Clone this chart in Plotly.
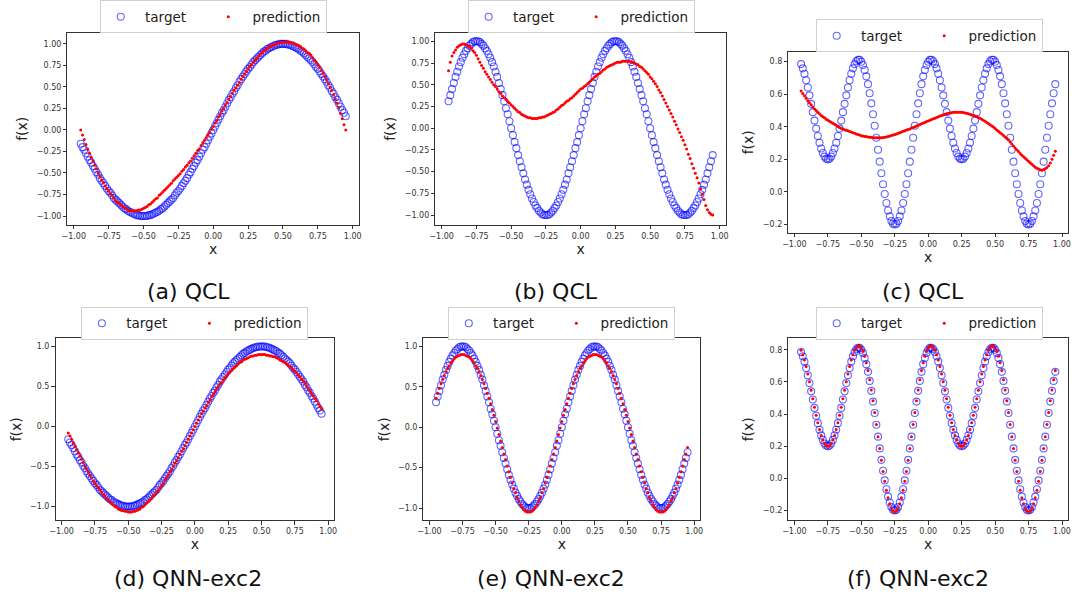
import plotly.graph_objects as go

# ---------------- data ----------------
x = [-0.95,-0.9375,-0.925,-0.9125,-0.9,-0.8875,-0.875,-0.8625,
     -0.85,-0.8375,-0.825,-0.8125,-0.8,-0.7875,-0.775,-0.7625,
     -0.75,-0.7375,-0.725,-0.7125,-0.7,-0.6875,-0.675,-0.6625,
     -0.65,-0.6375,-0.625,-0.6125,-0.6,-0.5875,-0.575,-0.5625,
     -0.55,-0.5375,-0.525,-0.5125,-0.5,-0.4875,-0.475,-0.4625,
     -0.45,-0.4375,-0.425,-0.4125,-0.4,-0.3875,-0.375,-0.3625,
     -0.35,-0.3375,-0.325,-0.3125,-0.3,-0.2875,-0.275,-0.2625,
     -0.25,-0.2375,-0.225,-0.2125,-0.2,-0.1875,-0.175,-0.1625,
     -0.15,-0.1375,-0.125,-0.1125,-0.1,-0.0875,-0.075,-0.0625,
     -0.05,-0.0375,-0.025,-0.0125,0.0,0.0125,0.025,0.0375,
     0.05,0.0625,0.075,0.0875,0.1,0.1125,0.125,0.1375,
     0.15,0.1625,0.175,0.1875,0.2,0.2125,0.225,0.2375,
     0.25,0.2625,0.275,0.2875,0.3,0.3125,0.325,0.3375,
     0.35,0.3625,0.375,0.3875,0.4,0.4125,0.425,0.4375,
     0.45,0.4625,0.475,0.4875,0.5,0.5125,0.525,0.5375,
     0.55,0.5625,0.575,0.5875,0.6,0.6125,0.625,0.6375,
     0.65,0.6625,0.675,0.6875,0.7,0.7125,0.725,0.7375,
     0.75,0.7625,0.775,0.7875,0.8,0.8125,0.825,0.8375,
     0.85,0.8625,0.875,0.8875,0.9,0.9125,0.925,0.9375,
     0.95]

target_a = [-0.16,-0.20,-0.23,-0.27,-0.31,-0.35,-0.38,-0.42,
            -0.45,-0.49,-0.52,-0.56,-0.59,-0.62,-0.65,-0.68,
            -0.71,-0.73,-0.76,-0.79,-0.81,-0.83,-0.85,-0.87,
            -0.89,-0.91,-0.92,-0.94,-0.95,-0.96,-0.97,-0.98,
            -0.99,-0.99,-1.00,-1.00,-1.00,-1.00,-1.00,-0.99,
            -0.99,-0.98,-0.97,-0.96,-0.95,-0.94,-0.92,-0.91,
            -0.89,-0.87,-0.85,-0.83,-0.81,-0.79,-0.76,-0.73,
            -0.71,-0.68,-0.65,-0.62,-0.59,-0.56,-0.52,-0.49,
            -0.45,-0.42,-0.38,-0.35,-0.31,-0.27,-0.23,-0.20,
            -0.16,-0.12,-0.08,-0.04,0.00,0.04,0.08,0.12,
            0.16,0.20,0.23,0.27,0.31,0.35,0.38,0.42,
            0.45,0.49,0.52,0.56,0.59,0.62,0.65,0.68,
            0.71,0.73,0.76,0.79,0.81,0.83,0.85,0.87,
            0.89,0.91,0.92,0.94,0.95,0.96,0.97,0.98,
            0.99,0.99,1.00,1.00,1.00,1.00,1.00,0.99,
            0.99,0.98,0.97,0.96,0.95,0.94,0.92,0.91,
            0.89,0.87,0.85,0.83,0.81,0.79,0.76,0.73,
            0.71,0.68,0.65,0.62,0.59,0.56,0.52,0.49,
            0.45,0.42,0.38,0.35,0.31,0.27,0.23,0.20,
            0.16]

target_b = [0.31,0.38,0.45,0.52,0.59,0.65,0.71,0.76,
            0.81,0.85,0.89,0.92,0.95,0.97,0.99,1.00,
            1.00,1.00,0.99,0.97,0.95,0.92,0.89,0.85,
            0.81,0.76,0.71,0.65,0.59,0.52,0.45,0.38,
            0.31,0.23,0.16,0.08,0.00,-0.08,-0.16,-0.23,
            -0.31,-0.38,-0.45,-0.52,-0.59,-0.65,-0.71,-0.76,
            -0.81,-0.85,-0.89,-0.92,-0.95,-0.97,-0.99,-1.00,
            -1.00,-1.00,-0.99,-0.97,-0.95,-0.92,-0.89,-0.85,
            -0.81,-0.76,-0.71,-0.65,-0.59,-0.52,-0.45,-0.38,
            -0.31,-0.23,-0.16,-0.08,0.00,0.08,0.16,0.23,
            0.31,0.38,0.45,0.52,0.59,0.65,0.71,0.76,
            0.81,0.85,0.89,0.92,0.95,0.97,0.99,1.00,
            1.00,1.00,0.99,0.97,0.95,0.92,0.89,0.85,
            0.81,0.76,0.71,0.65,0.59,0.52,0.45,0.38,
            0.31,0.23,0.16,0.08,0.00,-0.08,-0.16,-0.23,
            -0.31,-0.38,-0.45,-0.52,-0.59,-0.65,-0.71,-0.76,
            -0.81,-0.85,-0.89,-0.92,-0.95,-0.97,-0.99,-1.00,
            -1.00,-1.00,-0.99,-0.97,-0.95,-0.92,-0.89,-0.85,
            -0.81,-0.76,-0.71,-0.65,-0.59,-0.52,-0.45,-0.38,
            -0.31]

target_c = [0.785,0.759,0.726,0.686,0.641,0.593,0.541,0.490,
            0.438,0.389,0.343,0.302,0.267,0.239,0.217,0.204,
            0.200,0.204,0.217,0.239,0.267,0.302,0.343,0.389,
            0.438,0.490,0.541,0.593,0.641,0.686,0.726,0.759,
            0.785,0.803,0.812,0.811,0.800,0.780,0.749,0.710,
            0.662,0.606,0.544,0.477,0.406,0.333,0.259,0.186,
            0.115,0.047,-0.013,-0.068,-0.114,-0.150,-0.179,-0.195,
            -0.200,-0.195,-0.179,-0.150,-0.114,-0.068,-0.013,0.047,
            0.115,0.186,0.259,0.333,0.406,0.477,0.544,0.606,
            0.662,0.710,0.749,0.780,0.800,0.811,0.812,0.803,
            0.785,0.759,0.726,0.686,0.641,0.593,0.541,0.490,
            0.438,0.389,0.343,0.302,0.267,0.239,0.217,0.204,
            0.200,0.204,0.217,0.239,0.267,0.302,0.343,0.389,
            0.438,0.490,0.541,0.593,0.641,0.686,0.726,0.759,
            0.785,0.803,0.812,0.811,0.800,0.780,0.749,0.710,
            0.662,0.606,0.544,0.477,0.406,0.333,0.259,0.186,
            0.115,0.047,-0.013,-0.068,-0.114,-0.150,-0.179,-0.195,
            -0.200,-0.195,-0.179,-0.150,-0.114,-0.068,-0.013,0.047,
            0.115,0.186,0.259,0.333,0.406,0.477,0.544,0.606,
            0.662]

pred_qcl_a = [0.00,-0.06,-0.11,-0.17,-0.22,-0.27,-0.32,-0.36,
              -0.41,-0.45,-0.50,-0.54,-0.58,-0.61,-0.65,-0.68,
              -0.71,-0.74,-0.76,-0.79,-0.82,-0.84,-0.85,-0.87,
              -0.89,-0.90,-0.91,-0.93,-0.94,-0.94,-0.94,-0.94,
              -0.94,-0.93,-0.93,-0.92,-0.91,-0.90,-0.89,-0.87,
              -0.86,-0.84,-0.82,-0.80,-0.79,-0.76,-0.74,-0.72,
              -0.70,-0.68,-0.66,-0.64,-0.62,-0.59,-0.57,-0.55,
              -0.53,-0.51,-0.48,-0.46,-0.43,-0.41,-0.38,-0.36,
              -0.33,-0.30,-0.27,-0.24,-0.22,-0.18,-0.15,-0.12,
              -0.09,-0.06,-0.03,0.01,0.04,0.08,0.11,0.15,
              0.18,0.22,0.25,0.29,0.32,0.36,0.39,0.43,
              0.46,0.49,0.52,0.55,0.59,0.62,0.65,0.68,
              0.71,0.74,0.76,0.79,0.81,0.83,0.86,0.88,
              0.90,0.92,0.93,0.95,0.96,0.97,0.98,0.99,
              1.00,1.01,1.01,1.02,1.02,1.02,1.02,1.02,
              1.02,1.01,1.01,1.00,0.99,0.98,0.97,0.95,
              0.94,0.92,0.90,0.89,0.87,0.84,0.81,0.79,
              0.76,0.73,0.69,0.66,0.62,0.58,0.54,0.50,
              0.46,0.41,0.36,0.31,0.26,0.19,0.13,0.06,
              0.00]

pred_qcl_b = [0.66,0.76,0.83,0.87,0.90,0.93,0.95,0.96,
              0.97,0.97,0.96,0.95,0.94,0.92,0.89,0.87,
              0.84,0.80,0.76,0.72,0.69,0.65,0.62,0.59,
              0.56,0.53,0.50,0.48,0.45,0.42,0.40,0.37,
              0.35,0.33,0.31,0.29,0.27,0.25,0.23,0.21,
              0.19,0.18,0.16,0.15,0.14,0.13,0.12,0.12,
              0.11,0.11,0.11,0.11,0.12,0.12,0.13,0.13,
              0.14,0.15,0.16,0.17,0.18,0.19,0.21,0.22,
              0.24,0.26,0.27,0.29,0.31,0.32,0.34,0.35,
              0.37,0.39,0.41,0.43,0.45,0.46,0.48,0.49,
              0.51,0.53,0.55,0.57,0.59,0.60,0.62,0.63,
              0.65,0.67,0.68,0.70,0.71,0.72,0.73,0.74,
              0.75,0.76,0.76,0.76,0.77,0.77,0.77,0.77,
              0.77,0.76,0.76,0.75,0.74,0.73,0.71,0.70,
              0.68,0.66,0.64,0.62,0.59,0.57,0.54,0.51,
              0.48,0.44,0.41,0.37,0.33,0.29,0.25,0.21,
              0.17,0.13,0.08,0.04,-0.01,-0.05,-0.10,-0.14,
              -0.19,-0.24,-0.30,-0.35,-0.41,-0.46,-0.52,-0.57,
              -0.63,-0.70,-0.76,-0.82,-0.89,-0.94,-0.97,-0.99,
              -1.00]

pred_qcl_c = [0.620,0.605,0.590,0.575,0.560,0.547,0.535,0.522,
              0.510,0.500,0.490,0.480,0.470,0.462,0.455,0.447,
              0.440,0.434,0.428,0.421,0.415,0.409,0.402,0.396,
              0.390,0.386,0.382,0.379,0.375,0.371,0.368,0.364,
              0.360,0.356,0.352,0.349,0.345,0.343,0.341,0.340,
              0.338,0.336,0.335,0.333,0.332,0.332,0.332,0.332,
              0.332,0.334,0.336,0.338,0.340,0.343,0.346,0.349,
              0.352,0.356,0.360,0.364,0.368,0.372,0.376,0.380,
              0.383,0.387,0.392,0.396,0.400,0.405,0.409,0.414,
              0.418,0.423,0.427,0.432,0.436,0.440,0.445,0.449,
              0.453,0.457,0.462,0.466,0.470,0.473,0.477,0.480,
              0.483,0.485,0.487,0.489,0.490,0.490,0.490,0.490,
              0.490,0.488,0.485,0.483,0.480,0.477,0.473,0.470,
              0.466,0.461,0.457,0.452,0.447,0.440,0.434,0.427,
              0.420,0.413,0.405,0.398,0.390,0.381,0.373,0.364,
              0.355,0.346,0.338,0.329,0.320,0.307,0.295,0.282,
              0.270,0.259,0.248,0.236,0.225,0.216,0.206,0.197,
              0.188,0.179,0.170,0.161,0.152,0.146,0.140,0.136,
              0.133,0.137,0.143,0.150,0.160,0.178,0.200,0.225,
              0.250]

pred_qnn_a = [-0.08,-0.12,-0.16,-0.21,-0.25,-0.29,-0.33,-0.37,
              -0.41,-0.45,-0.50,-0.53,-0.57,-0.61,-0.64,-0.68,
              -0.71,-0.74,-0.77,-0.79,-0.82,-0.85,-0.87,-0.90,
              -0.92,-0.94,-0.96,-0.98,-1.00,-1.01,-1.03,-1.04,
              -1.05,-1.05,-1.06,-1.06,-1.07,-1.07,-1.07,-1.06,
              -1.06,-1.05,-1.04,-1.03,-1.01,-1.00,-0.98,-0.96,
              -0.94,-0.92,-0.90,-0.87,-0.85,-0.82,-0.80,-0.77,
              -0.74,-0.71,-0.67,-0.64,-0.61,-0.57,-0.54,-0.50,
              -0.46,-0.43,-0.39,-0.35,-0.31,-0.28,-0.24,-0.20,
              -0.16,-0.12,-0.08,-0.04,0.00,0.04,0.08,0.12,
              0.16,0.19,0.23,0.26,0.30,0.33,0.37,0.40,
              0.43,0.47,0.50,0.53,0.55,0.58,0.61,0.63,
              0.66,0.68,0.70,0.72,0.74,0.76,0.78,0.80,
              0.81,0.83,0.84,0.85,0.86,0.87,0.88,0.88,
              0.89,0.89,0.90,0.90,0.90,0.90,0.90,0.89,
              0.89,0.88,0.88,0.87,0.87,0.86,0.85,0.83,
              0.82,0.81,0.80,0.78,0.76,0.75,0.73,0.71,
              0.69,0.67,0.64,0.62,0.59,0.57,0.54,0.51,
              0.47,0.44,0.41,0.38,0.35,0.32,0.28,0.25,
              0.22]

pred_qnn_b = [0.36,0.42,0.48,0.54,0.59,0.64,0.69,0.73,
              0.76,0.80,0.82,0.85,0.87,0.88,0.89,0.90,
              0.90,0.90,0.89,0.88,0.87,0.85,0.82,0.80,
              0.76,0.73,0.69,0.64,0.59,0.54,0.48,0.42,
              0.36,0.29,0.22,0.15,0.07,-0.01,-0.09,-0.17,
              -0.25,-0.33,-0.40,-0.48,-0.55,-0.62,-0.69,-0.76,
              -0.81,-0.87,-0.91,-0.96,-0.99,-1.02,-1.04,-1.05,
              -1.05,-1.05,-1.04,-1.02,-0.99,-0.96,-0.91,-0.87,
              -0.81,-0.76,-0.69,-0.62,-0.55,-0.48,-0.40,-0.33,
              -0.25,-0.17,-0.09,-0.01,0.07,0.15,0.22,0.29,
              0.36,0.42,0.48,0.54,0.59,0.64,0.69,0.73,
              0.76,0.80,0.82,0.85,0.87,0.88,0.89,0.90,
              0.90,0.90,0.89,0.88,0.87,0.85,0.82,0.80,
              0.76,0.73,0.69,0.64,0.59,0.54,0.48,0.42,
              0.36,0.29,0.22,0.15,0.07,-0.01,-0.09,-0.17,
              -0.25,-0.33,-0.40,-0.48,-0.55,-0.62,-0.69,-0.76,
              -0.81,-0.87,-0.91,-0.96,-0.99,-1.02,-1.04,-1.05,
              -1.05,-1.05,-1.04,-1.02,-0.99,-0.96,-0.91,-0.87,
              -0.81,-0.76,-0.69,-0.62,-0.55,-0.48,-0.40,-0.33,
              -0.25]

pred_qnn_c = [0.796,0.769,0.736,0.695,0.649,0.600,0.547,0.495,
              0.442,0.392,0.345,0.303,0.267,0.239,0.216,0.203,
              0.199,0.203,0.216,0.239,0.267,0.303,0.345,0.392,
              0.442,0.495,0.547,0.600,0.649,0.695,0.736,0.769,
              0.796,0.814,0.823,0.822,0.811,0.791,0.759,0.719,
              0.670,0.613,0.550,0.482,0.409,0.335,0.259,0.185,
              0.112,0.043,-0.018,-0.074,-0.121,-0.158,-0.188,-0.204,
              -0.209,-0.204,-0.188,-0.158,-0.121,-0.074,-0.018,0.043,
              0.112,0.185,0.259,0.335,0.409,0.482,0.550,0.613,
              0.670,0.719,0.759,0.791,0.811,0.822,0.823,0.814,
              0.796,0.769,0.736,0.695,0.649,0.600,0.547,0.495,
              0.442,0.392,0.345,0.303,0.267,0.239,0.216,0.203,
              0.199,0.203,0.216,0.239,0.267,0.303,0.345,0.392,
              0.442,0.495,0.547,0.600,0.649,0.695,0.736,0.769,
              0.796,0.814,0.823,0.822,0.811,0.791,0.759,0.719,
              0.670,0.613,0.550,0.482,0.409,0.335,0.259,0.185,
              0.112,0.043,-0.018,-0.074,-0.121,-0.158,-0.188,-0.204,
              -0.209,-0.204,-0.188,-0.158,-0.121,-0.074,-0.018,0.043,
              0.112,0.185,0.259,0.335,0.409,0.482,0.550,0.613,
              0.670]

captions = ["(a) QCL", "(b) QCL", "(c) QCL", "(d) QNN-exc2", "(e) QNN-exc2", "(f) QNN-exc2"]
series_names = ["target", "prediction"]
x_ticks = [-1.0, -0.75, -0.5, -0.25, 0.0, 0.25, 0.5, 0.75, 1.0]

for arr in (target_a, target_b, target_c, pred_qcl_a, pred_qcl_b, pred_qcl_c,
            pred_qnn_a, pred_qnn_b, pred_qnn_c):
    assert len(arr) == len(x), len(arr)

# ---------------- layout settings (pixels in a 1074 x 597 page) ----------------
W, H = 1074, 597
panels = [
    dict(t=target_a, p=pred_qcl_a, box=(62, 356, 32, 224), yr=(-1.10, 1.127), dt=0.25, fmt=".2f", leg=(209, 16), cap=(184, 291)),
    dict(t=target_b, p=pred_qcl_b, box=(433, 726, 32, 224), yr=(-1.11, 1.096), dt=0.25, fmt=".2f", leg=(580, 16), cap=(555, 291)),
    dict(t=target_c, p=pred_qcl_c, box=(789, 1071, 51, 232), yr=(-0.25, 0.86), dt=0.2, fmt=".1f", leg=(931, 35), cap=(925, 291)),
    dict(t=target_a, p=pred_qnn_a, box=(50, 331, 338, 520), yr=(-1.17, 1.10), dt=0.5, fmt=".1f", leg=(190, 323), cap=(184, 578)),
    dict(t=target_b, p=pred_qnn_b, box=(421, 700, 338, 520), yr=(-1.15, 1.10), dt=0.5, fmt=".1f", leg=(560, 323), cap=(550, 578)),
    dict(t=target_c, p=pred_qnn_c, box=(789, 1071, 338, 520), yr=(-0.26, 0.87), dt=0.2, fmt=".1f", leg=(931, 323), cap=(920, 578)),
]

FONT = "DejaVu Sans"
AX = "#333333"
NB = "\u00a0"
fig = go.Figure()
layout = {}
annotations = []
for i, pn in enumerate(panels):
    n = "" if i == 0 else str(i + 1)
    leg = "legend" + n
    fig.add_trace(go.Scatter(
        x=x, y=pn["t"], mode="markers", name=NB + series_names[0] + NB * 4, legend=leg,
        xaxis="x" + n, yaxis="y" + n,
        marker=dict(symbol="circle-open", size=7, color="rgba(0,0,255,0.6)", line=dict(width=1.1)),
    ))
    fig.add_trace(go.Scatter(
        x=x, y=pn["p"], mode="markers", name=NB + series_names[1], legend=leg,
        xaxis="x" + n, yaxis="y" + n,
        marker=dict(symbol="circle", size=3, color="#ff0000", line=dict(width=0)),
    ))
    l, r, t, b = pn["box"]
    common = dict(showline=True, mirror=True, linecolor=AX, linewidth=1, showgrid=False, zeroline=False,
                  ticks="outside", ticklen=3.5, tickwidth=0.8, tickcolor=AX,
                  tickfont=dict(family=FONT, size=8, color=AX))
    layout["xaxis" + n] = dict(common, domain=[l / W, r / W], range=[-1.045, 1.045],
                               tickmode="array", tickvals=x_ticks, tickformat=".2f",
                               anchor="y" + n,
                               title=dict(text="x", font=dict(family=FONT, size=14, color="#222"), standoff=3))
    layout["yaxis" + n] = dict(common, domain=[1 - b / H, 1 - t / H], range=list(pn["yr"]),
                               tick0=0, dtick=pn["dt"], tickformat=pn["fmt"],
                               anchor="x" + n,
                               title=dict(text="f(x)", font=dict(family=FONT, size=14, color="#222"), standoff=5))
    lx, ly = pn["leg"]
    layout[leg] = dict(x=lx / W, y=1 - ly / H, xanchor="center", yanchor="middle", orientation="h",
                       bgcolor="white", bordercolor="#d0d0d0", borderwidth=1,
                       font=dict(family=FONT, size=13.5, color="#222"),
                       itemclick=False, itemdoubleclick=False)
    cx, cy = pn["cap"]
    annotations.append(dict(text=captions[i], x=cx / W, y=1 - cy / H, xref="paper", yref="paper",
                            xanchor="center", yanchor="middle", showarrow=False,
                            font=dict(family=FONT, size=22, color="#111")))

fig.update_layout(width=W, height=H, margin=dict(l=0, r=0, t=0, b=0),
                  paper_bgcolor="white", plot_bgcolor="white", showlegend=True,
                  annotations=annotations, **layout)
fig.write_html("out.html", config={"displayModeBar": False},
               post_script="document.body.style.margin='0px';document.body.style.padding='0px';")
